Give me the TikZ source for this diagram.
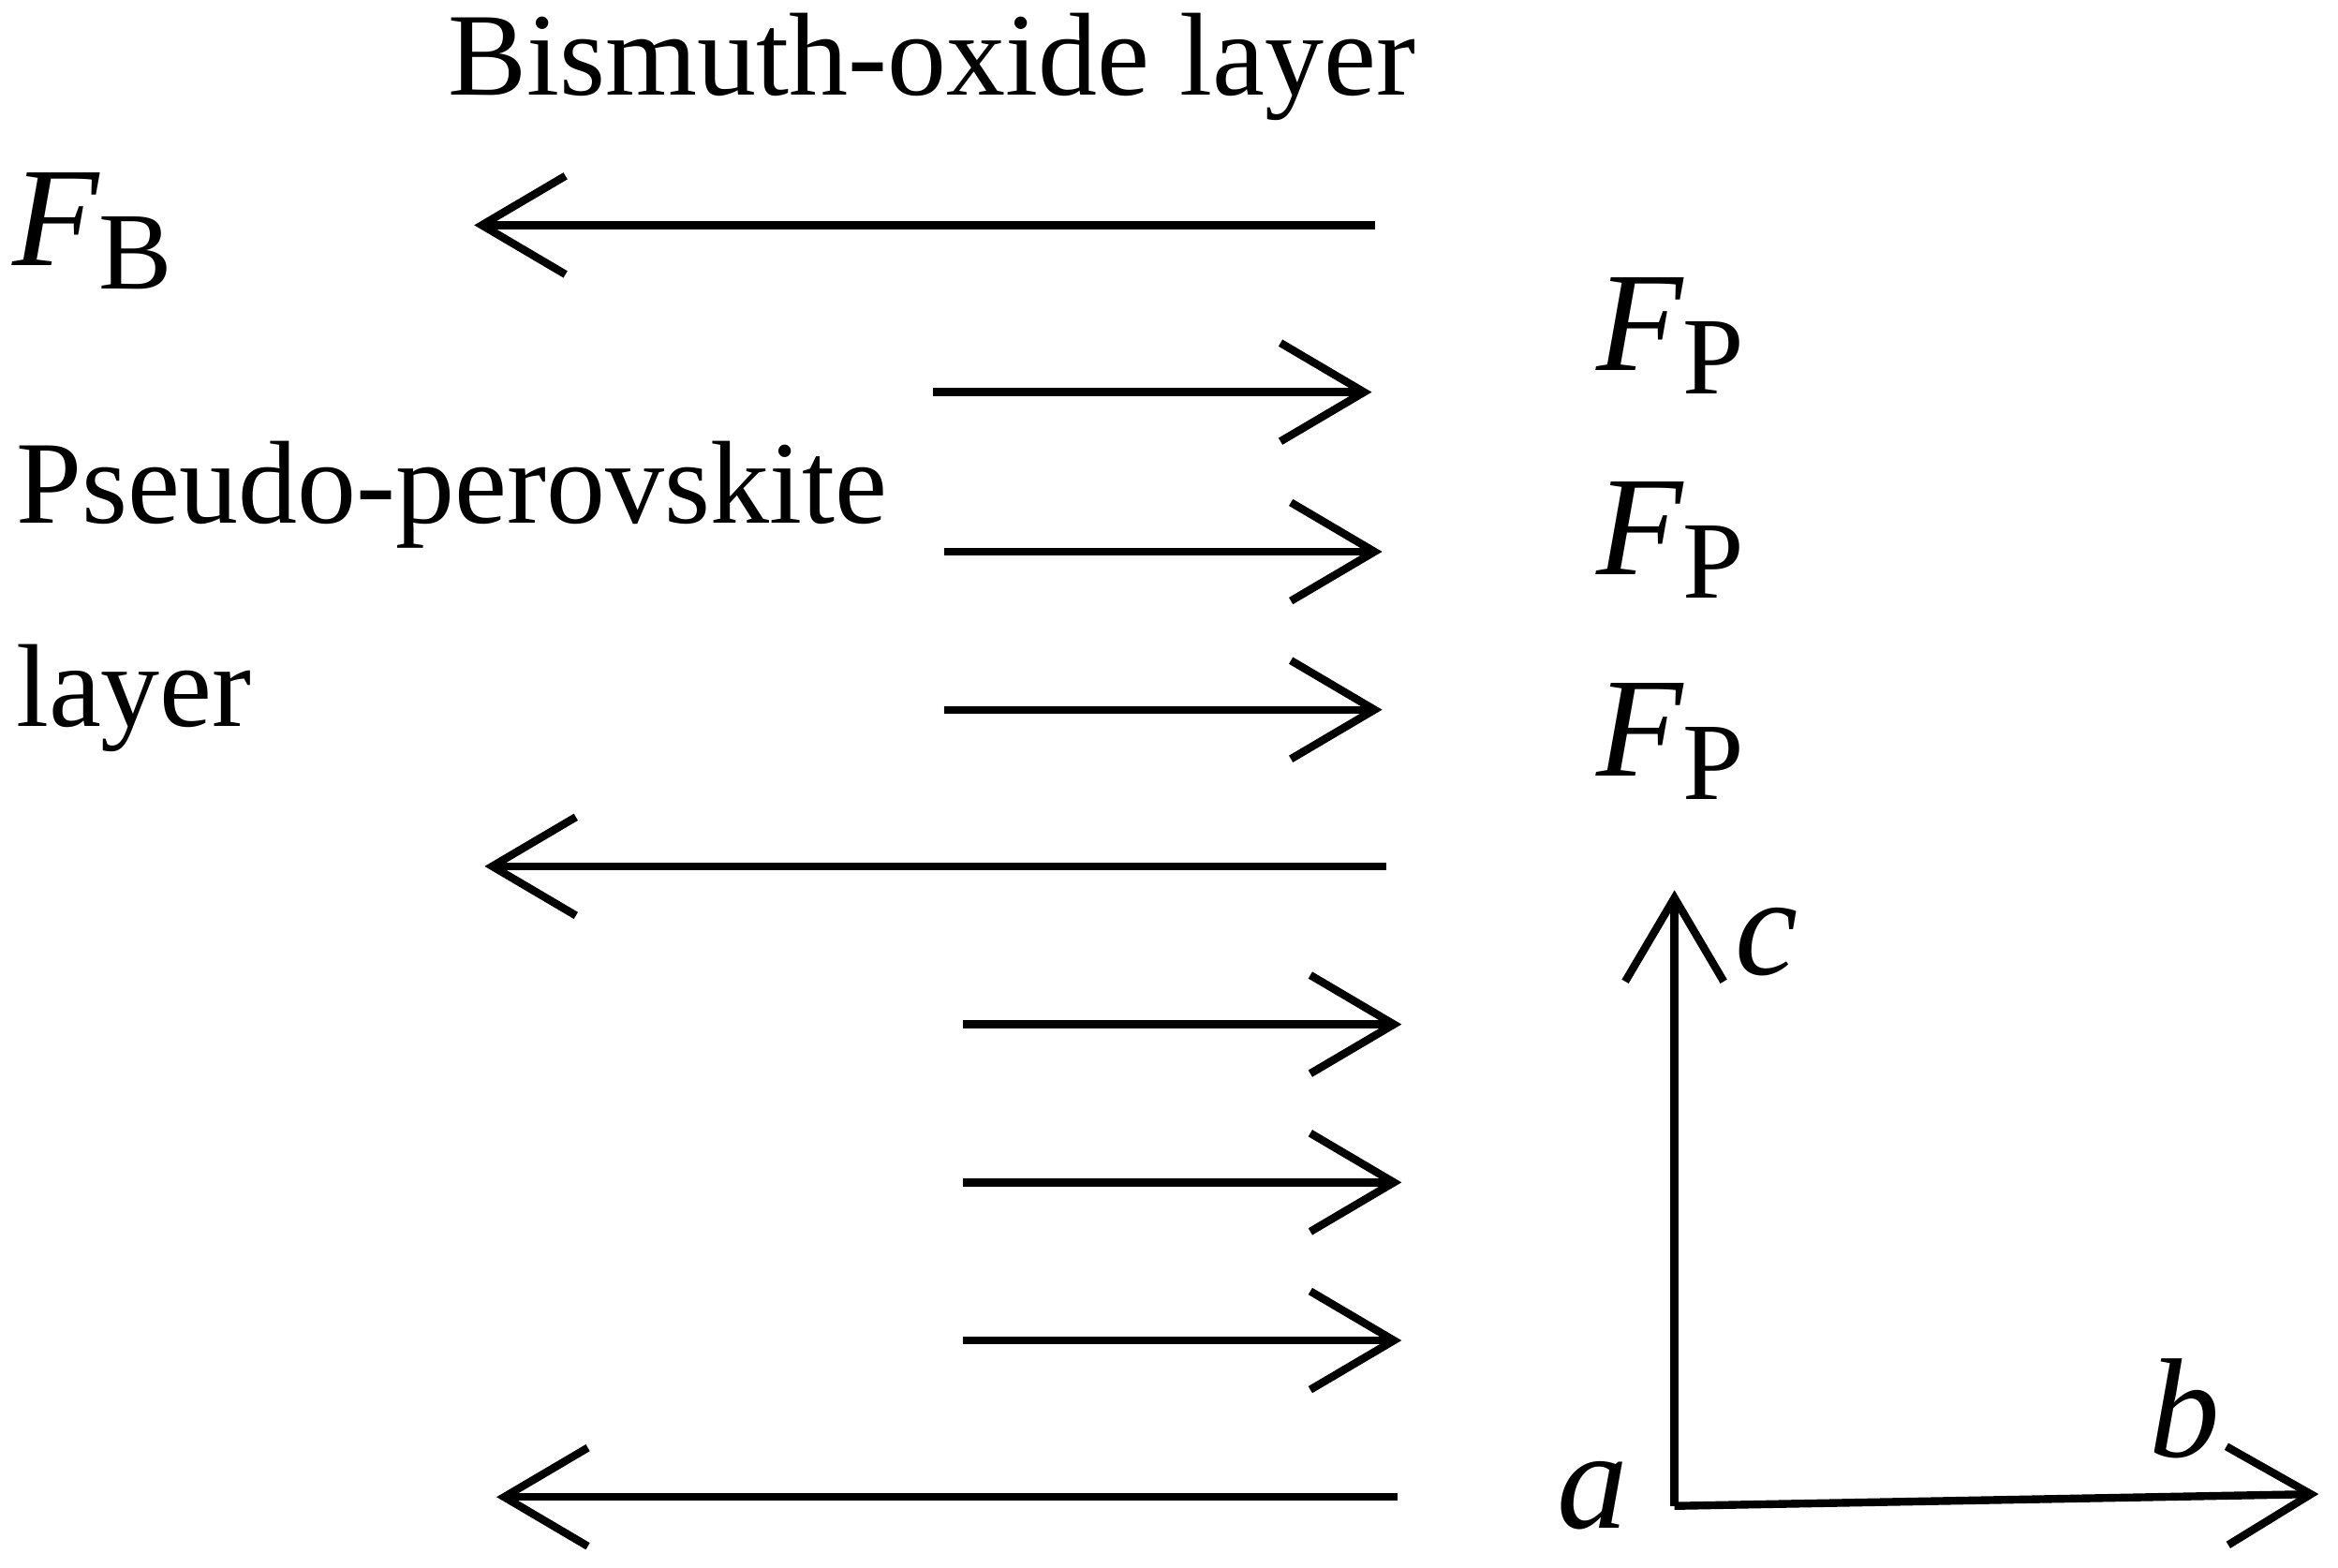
\documentclass[tikz,border=0pt]{standalone}
\usepackage{fontspec}
\setmainfont{Liberation Serif}
\usetikzlibrary{arrows.meta}
\newcommand{\forcelbl}[1]{{\fontsize{27}{27}\selectfont\itshape F}\raisebox{-0.2em}{\fontsize{21}{24}\selectfont #1}}
\begin{document}
\begin{tikzpicture}[x=0.01cm,y=-0.01cm,
  arr/.style={line width=1.5pt,-{Straight Barb[length=0.56cm,width=0.66cm,line width=1.5pt]}},
  lbl/.style={font=\fontsize{22.5}{26}\selectfont,inner sep=0pt},
  ax/.style={inner sep=0pt,font=\fontsize{27}{27}\selectfont\itshape}]
\useasboundingbox (0,0) rectangle (1568,1051);
\node[lbl] (t) at (625,45) {Bismuth-oxide layer};
\node[lbl,anchor=west] (p1) at (10,332) {Pseudo-perovskite};
\node[lbl,anchor=west] (p2) at (10,468) {layer};
\node[lbl] (fb) at (62,155) {\forcelbl{B}};
\foreach \y/\n in {225/a,362/b,497/c}
  \node[lbl] (fp\n) at (1120,\y) {\forcelbl{P}};
\coordinate (s1) at (922,151); \coordinate (e1) at (318,151);
\coordinate (s2) at (626,263); \coordinate (e2) at (920,263);
\coordinate (s3) at (633,370); \coordinate (e3) at (927,370);
\coordinate (s4) at (633,476); \coordinate (e4) at (927,476);
\coordinate (s5) at (930,581); \coordinate (e5) at (325,581);
\coordinate (s6) at (646,687); \coordinate (e6) at (940,687);
\coordinate (s7) at (646,793); \coordinate (e7) at (940,793);
\coordinate (s8) at (646,899); \coordinate (e8) at (940,899);
\coordinate (s9) at (937,1004); \coordinate (e9) at (333,1004);
\foreach \i in {1,...,9} \draw[arr] (s\i) -- (e\i);
\coordinate (o) at (1123,1010);
\coordinate (cc) at (1123,597);
\coordinate (bb) at (1555,1002);
\draw[arr] (o) -- (cc);
\draw[arr] (o) -- (bb);
\node[ax] (lc) at (1185,632) {c};
\node[ax] (lb) at (1465,945) {b};
\node[ax] (la) at (1068,1003) {a};
\end{tikzpicture}
\end{document}
